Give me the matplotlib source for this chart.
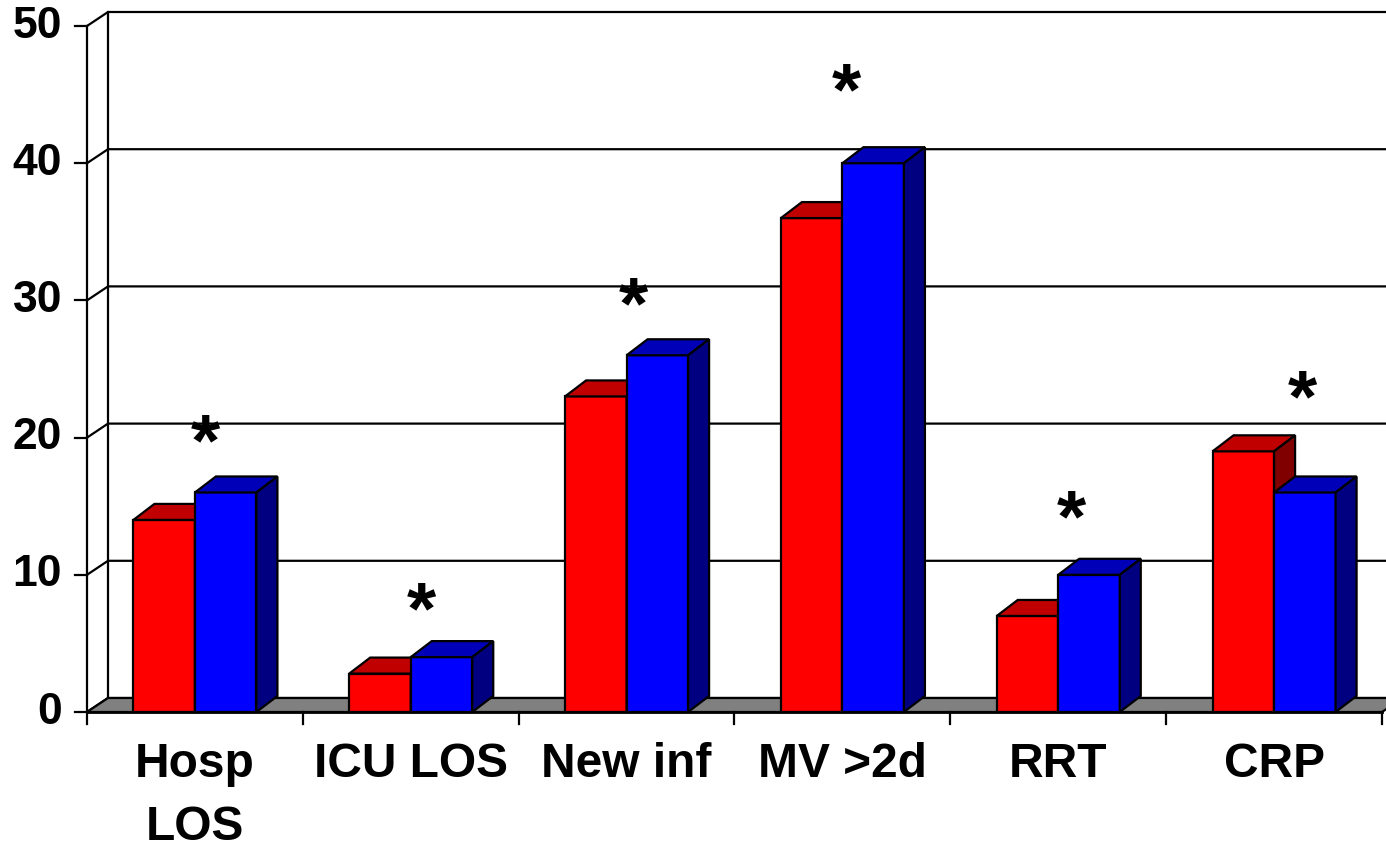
import matplotlib
matplotlib.use("Agg")
import matplotlib.pyplot as plt
from matplotlib.patches import Polygon, Rectangle

plt.rcParams['font.family'] = ['Liberation Sans', 'DejaVu Sans']

# Data
categories = ["Hosp\nLOS", "ICU LOS", "New inf", "MV >2d", "RRT", "CRP"]
red_vals = [14, 2.8, 23, 36, 7, 19]
blue_vals = [16, 4, 26, 40, 10, 16]
star_vals = [20.5, 8.3, 30.5, 46.1, 15.0, 23.7]
star_shift = [0.05, 0.05, 0.03, 0.02, 0.06, 0.13]
y_ticks = [0, 10, 20, 30, 40, 50]

RED = ('#FF0000', '#C00000', '#800000')    # front, top, side
BLUE = ('#0000FF', '#0000B8', '#000080')
LW = 1.6

W, H = 1386, 847
fig = plt.figure(figsize=(W / 100, H / 100), dpi=100)
ax = fig.add_axes([87 / W, (H - 712) / H, 1295 / W, 686 / H])
ax.set_xlim(-0.5, 5.5)
ax.set_ylim(0, 50)
ax.axis('off')

# data units per pixel
px_x = 6 / 1295
px_y = 50 / 686
WDX, WDY = 21 * px_x, 14 * px_y   # wall / floor depth
BDX, BDY = 21 * px_x, 16 * px_y   # bar depth
BW = 0.285                        # bar width

# floor
x0, x1 = -0.5, len(categories) - 0.5
floor = Polygon([(x0, 0), (x1, 0), (x1 + WDX, WDY), (x0 + WDX, WDY)],
                closed=True, facecolor='#808080', edgecolor='black',
                linewidth=LW, clip_on=False, zorder=1)
ax.add_patch(floor)

# back wall gridlines + side wall diagonals
for v in y_ticks:
    ax.plot([x0, x0 + WDX, x1 + WDX + 0.05], [v, v + WDY, v + WDY],
            color='black', lw=LW, clip_on=False, zorder=0.5)
    # y tick
    ax.plot([x0 - 12 * px_x, x0], [v, v], color='black', lw=LW, clip_on=False)
    ax.text(x0 - 25 * px_x, v, str(v), ha='right', va='center',
            fontsize=32, fontweight='bold')

ax.plot([x0, x0], [0, 50], color='black', lw=LW, clip_on=False, zorder=2)
ax.plot([x0 + WDX, x0 + WDX], [WDY, 50 + WDY], color='black', lw=LW,
        clip_on=False, zorder=0.5)

# x ticks and front edge
for i in range(len(categories) + 1):
    ax.plot([i - 0.5, i - 0.5], [0, -12 * px_y], color='black', lw=LW,
            clip_on=False)
ax.plot([x0, x1], [0, 0], color='black', lw=2.0, clip_on=False, zorder=2)


def draw_bar(left, h, cols, z):
    front, top, side = cols
    kw = dict(edgecolor='black', linewidth=LW, clip_on=False, zorder=z,
              joinstyle='miter')
    ax.add_patch(Rectangle((left, 0), BW, h, facecolor=front, **kw))
    ax.add_patch(Polygon([(left, h), (left + BW, h), (left + BW + BDX, h + BDY),
                          (left + BDX, h + BDY)], closed=True, facecolor=top, **kw))
    ax.add_patch(Polygon([(left + BW, 0), (left + BW + BDX, BDY),
                          (left + BW + BDX, h + BDY), (left + BW, h)],
                         closed=True, facecolor=side, **kw))


for i, (r, b) in enumerate(zip(red_vals, blue_vals)):
    draw_bar(i - BW, r, RED, 3)
    draw_bar(i, b, BLUE, 4)
    ax.text(i + star_shift[i], star_vals[i] - 8 * px_y, '*', ha='center',
            va='center_baseline', fontsize=54, fontweight='bold', zorder=5)
    ax.text(i, -30 * px_y, categories[i], ha='center', va='top',
            fontsize=34.5, fontweight='bold', linespacing=1.5)

fig.savefig('out.png', dpi=100)
